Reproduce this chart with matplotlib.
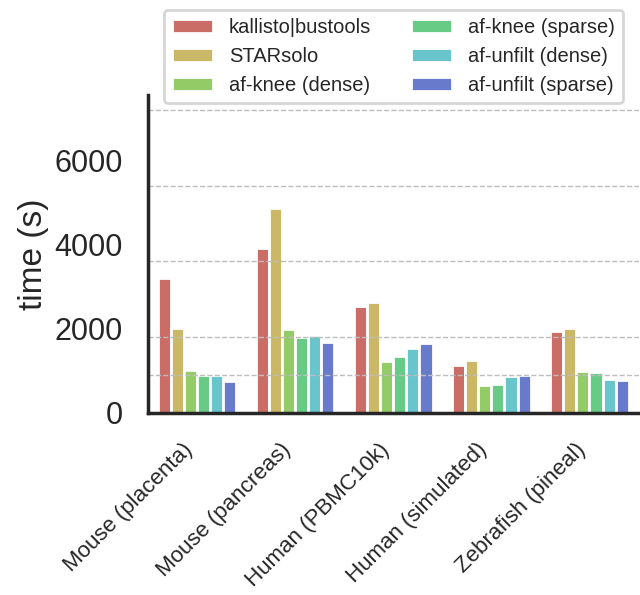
import matplotlib
matplotlib.use("Agg")
import matplotlib.pyplot as plt
import numpy as np
import seaborn as sns

datasets = ["Mouse (placenta)", "Mouse (pancreas)", "Human (PBMC10k)",
            "Human (simulated)", "Zebrafish (pineal)"]
methods = ["kallisto|bustools", "STARsolo", "af-knee (dense)",
           "af-knee (sparse)", "af-unfilt (dense)", "af-unfilt (sparse)"]

kallisto_bustools = [3210, 3930, 2550, 1135, 1945]
starsolo = [2020, 4870, 2635, 1260, 2020]
af_knee_dense = [1020, 1980, 1230, 665, 1000]
af_knee_sparse = [885, 1810, 1340, 680, 975]
af_unfilt_dense = [900, 1850, 1545, 870, 800]
af_unfilt_sparse = [745, 1675, 1650, 885, 775]

# reference durations: 15 min, 30 min, 1 h, 1.5 h, 2 h
ref_times = [900, 1800, 3600, 5400, 7200]
yticks = [0, 2000, 4000, 6000]

series = [kallisto_bustools, starsolo, af_knee_dense, af_knee_sparse,
          af_unfilt_dense, af_unfilt_sparse]

plt.rcParams["font.family"] = ["Liberation Sans", "DejaVu Sans"]
colors = [sns.desaturate(c, 0.75) for c in sns.color_palette("hls", 8)[:6]]

fig = plt.figure(figsize=(6.4, 5.95), dpi=100)
ax = fig.add_axes([0.2313, 0.3064, 0.7664, 0.534])

n = len(series)
width = 0.8 / n
x = np.arange(len(datasets))
for i, (vals, name, col) in enumerate(zip(series, methods, colors)):
    ax.bar(x - 0.4 + width * (i + 0.5), vals, width, color=col,
           edgecolor="white", linewidth=2, label=name, zorder=1)

for t in ref_times:
    ax.axhline(t, color="#bdbdbd", linestyle="--", linewidth=1, zorder=2)

ax.set_xlim(-0.5, len(datasets) - 0.5)
ax.set_ylim(0, 7560)
ax.set_yticks(yticks)
ax.set_xticks(x)
ax.set_xticklabels(datasets, rotation=45, ha="right", fontsize=16)
ax.tick_params(axis="y", labelsize=22, length=0, pad=18, colors="#262626")
ax.tick_params(axis="x", length=0, pad=19, colors="#262626")
ax.set_ylabel("time (s)", fontsize=24, color="#262626")

for side in ["top", "right"]:
    ax.spines[side].set_visible(False)
for side in ["left", "bottom"]:
    ax.spines[side].set_linewidth(2.5)
    ax.spines[side].set_color("#262626")

leg = ax.legend(ncol=2, loc="upper center", fontsize=14.5,
                bbox_to_anchor=(393.4 / 640, 1 - 10 / 595),
                bbox_transform=fig.transFigure, borderaxespad=0,
                frameon=True, fancybox=True)
leg.get_frame().set_edgecolor("0.8")
leg.get_frame().set_linewidth(2)
for txt in leg.get_texts():
    txt.set_color("#262626")

fig.savefig("out.png", dpi=100)
